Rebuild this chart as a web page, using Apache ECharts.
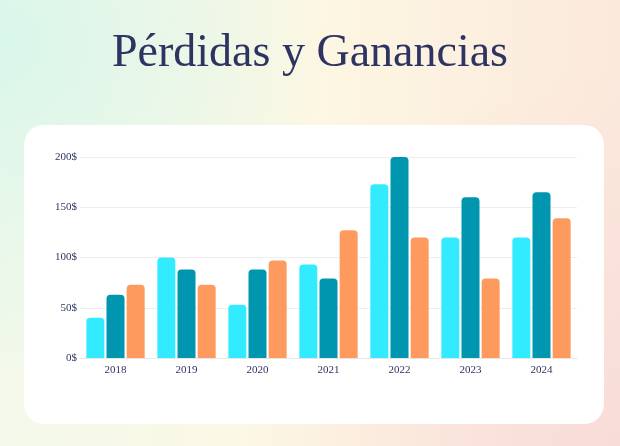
<!DOCTYPE html>
<html>
<head>
<meta charset="utf-8">
<script src="https://cdn.jsdelivr.net/npm/echarts@6/dist/echarts.min.js"></script>
<style>
  html, body { margin: 0; padding: 0; }
  body {
    width: 620px; height: 446px; overflow: hidden;
    background:
      radial-gradient(circle at 0% 10%, #d9f6ea 0%, rgba(217,246,234,0) 45%),
      radial-gradient(circle at 100% 100%, #f8dcd8 0%, rgba(248,220,216,0) 50%),
      linear-gradient(90deg, #f3f9ea 0%, #fdf7e3 50%, #fbe9dc 100%);
  }
  #main { width: 620px; height: 446px; }
</style>
</head>
<body>
<div id="main"></div>
<script>
	//年份
	var years = ['2018', '2019', '2020', '2021', '2022', '2023', '2024'];
	//三组数据
	var serieA = [40, 100, 53, 93, 173, 120, 120];
	var serieB = [63, 88, 88, 79, 200, 160, 165];
	var serieC = [73, 73, 97, 127, 120, 79, 139];
	var yTicks = [0, 50, 100, 150, 200];

	var myChart = echarts.init(document.getElementById('main'));
	var font = 'Liberation Serif';

	function barSerie(data, color) {
		return {
			type: 'bar',
			data: data,
			barWidth: 18,
			barGap: '12%',
			itemStyle: { color: color, borderRadius: [4, 4, 0, 0] }
		};
	}

	var option = {
		title: {
			text: 'Pérdidas y Ganancias',
			left: 'center',
			top: 26,
			textStyle: { fontFamily: font, fontSize: 46, fontWeight: 'normal', color: '#2e3461' }
		},
		graphic: [{
			type: 'rect',
			z: -1,
			shape: { x: 24, y: 125, width: 580, height: 299, r: 20 },
			style: { fill: '#ffffff' }
		}],
		grid: { left: 80, right: 43, top: 157, bottom: 88 },
		xAxis: {
			type: 'category',
			data: years,
			axisTick: { show: false },
			axisLine: { lineStyle: { color: '#e6e6e6' } },
			axisLabel: { fontFamily: font, fontSize: 11, color: '#2e3461', margin: 7 }
		},
		yAxis: {
			type: 'value',
			min: yTicks[0],
			max: yTicks[yTicks.length - 1],
			interval: 50,
			axisLabel: { fontFamily: font, fontSize: 11, color: '#2e3461', formatter: '{value}$', margin: 3 },
			splitLine: { lineStyle: { color: '#eeeeee' } }
		},
		series: [
			barSerie(serieA, '#33ebff'),
			barSerie(serieB, '#0096b0'),
			barSerie(serieC, '#ff9a5e')
		]
	};
	myChart.setOption(option);
</script>
</body>
</html>
